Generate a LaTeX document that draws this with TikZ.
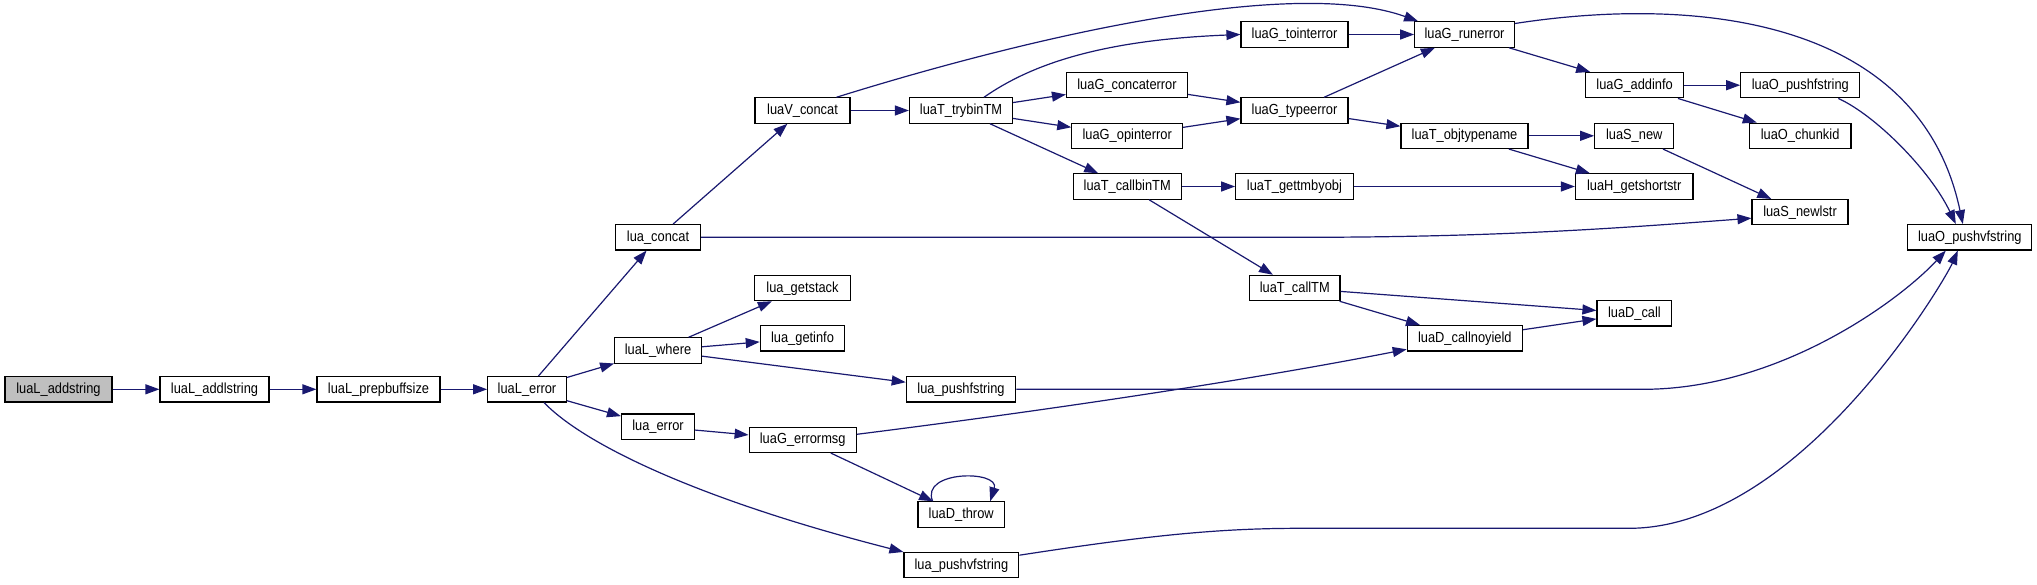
\documentclass[tikz,border=0pt]{standalone}
\usepackage{fontspec}
\setmainfont{Liberation Sans}[FakeStretch=0.88]
\usetikzlibrary{arrows.meta,calc}
\definecolor{edgecol}{HTML}{191970}
\definecolor{rootfill}{HTML}{BFBFBF}
\begin{document}
\begin{tikzpicture}[x=0.5pt,y=-0.5pt,
  fn/.style={draw=black, line width=0.6pt, fill=white, minimum height=12.65pt, inner sep=0pt,
    font=\fontsize{7.3pt}{8pt}\selectfont, text height=5.4pt, text depth=1.4pt},
  root/.style={fn, fill=rootfill},
  bw/.style={minimum width=#1*0.5pt},
  call/.style={draw=edgecol, line width=0.6pt, -{Triangle[length=7pt,width=5pt]}}]
\fill[white] (0,0) rectangle (2037,584);
\useasboundingbox (0,0) rectangle (2037,584);
% nodes
\node[root,bw=107]  (addstring)   at (58.5,389.3)  {luaL\_addstring};
\node[fn,bw=109]    (addlstring)  at (214.5,389.3) {luaL\_addlstring};
\node[fn,bw=123]    (prepbuf)     at (378.5,389.3) {luaL\_prepbuffsize};
\node[fn,bw=78.5]   (lerror)      at (527,389.3)   {luaL\_error};
\node[fn,bw=85]     (concat)      at (658,237.3)   {lua\_concat};
\node[fn,bw=86.6]   (where)       at (658,350.5)   {luaL\_where};
\node[fn,bw=72.8]   (error)       at (658,426.7)   {lua\_error};
\node[fn,bw=114.8]  (pushvf)      at (961.4,565.2) {lua\_pushvfstring};
\node[fn,bw=95]     (vconcat)     at (802.5,110.5) {luaV\_concat};
\node[fn,bw=96]     (getstack)    at (802.5,288)   {lua\_getstack};
\node[fn,bw=84.3]   (getinfo)     at (802.5,338.3) {lua\_getinfo};
\node[fn,bw=107]    (errormsg)    at (802.7,439.8) {luaG\_errormsg};
\node[fn,bw=103]    (trybin)      at (961,110.5)   {luaT\_trybinTM};
\node[fn,bw=109.4]  (pushf)       at (961,389.3)   {lua\_pushfstring};
\node[fn,bw=86.6]   (throw)       at (961.2,514.5) {luaD\_throw};
\node[fn,bw=121]    (concaterr)   at (1127,85.2)   {luaG\_concaterror};
\node[fn,bw=110.7]  (opinterr)    at (1127.2,135.8) {luaG\_opinterror};
\node[fn,bw=108]    (callbin)     at (1127.2,186.5) {luaT\_callbinTM};
\node[fn,bw=107]    (tointerr)    at (1294.5,34.5) {luaG\_tointerror};
\node[fn,bw=107]    (typeerr)     at (1294.5,110.5) {luaG\_typeerror};
\node[fn,bw=117.4]  (gettm)       at (1294.4,186.5) {luaT\_gettmbyobj};
\node[fn,bw=90.4]   (calltm)      at (1294.8,288)  {luaT\_callTM};
\node[fn,bw=99.6]   (runerr)      at (1464.5,34.5) {luaG\_runerror};
\node[fn,bw=127]    (objtype)     at (1464.5,135.8) {luaT\_objtypename};
\node[fn,bw=115]    (callny)      at (1464.8,338.3) {luaD\_callnoyield};
\node[fn,bw=97.7]   (addinfo)     at (1634.6,85.2) {luaG\_addinfo};
\node[fn,bw=79]     (snew)        at (1634.2,135.8) {luaS\_new};
\node[fn,bw=117.5]  (getshort)    at (1634.2,186.5) {luaH\_getshortstr};
\node[fn,bw=74.8]   (dcall)       at (1634.4,313.3) {luaD\_call};
\node[fn,bw=119]    (opushf)      at (1800.3,85.2) {luaO\_pushfstring};
\node[fn,bw=101.6]  (chunkid)     at (1800.1,135.8) {luaO\_chunkid};
\node[fn,bw=95.9]   (newlstr)     at (1800,212.2)  {luaS\_newlstr};
\node[fn,bw=124]    (opushvf)     at (1969.8,237.3) {luaO\_pushvfstring};
% straight edges
\draw[call] (addstring) -- (addlstring);
\draw[call] (addlstring) -- (prepbuf);
\draw[call] (prepbuf) -- (lerror);
\draw[call] (lerror) -- (concat);
\draw[call] (lerror) -- (where);
\draw[call] (lerror) -- (error);
\draw[call] (concat) -- (vconcat);
\draw[call] (vconcat) -- (trybin);
\draw[call] (trybin) -- (concaterr);
\draw[call] (trybin) -- (opinterr);
\draw[call] (trybin) -- (callbin);
\draw[call] (concaterr) -- (typeerr);
\draw[call] (opinterr) -- (typeerr);
\draw[call] (callbin) -- (gettm);
\draw[call] (callbin) -- (calltm);
\draw[call] (tointerr) -- (runerr);
\draw[call] (typeerr) -- (runerr);
\draw[call] (typeerr) -- (objtype);
\draw[call] (runerr) -- (addinfo);
\draw[call] (addinfo) -- (opushf);
\draw[call] (addinfo) -- (chunkid);
\draw[call] (objtype) -- (snew);
\draw[call] (objtype) -- (getshort);
\draw[call] (snew) -- (newlstr);
\draw[call] (gettm) -- (getshort);
\draw[call] (calltm) -- (dcall);
\draw[call] (calltm) -- (callny);
\draw[call] (callny) -- (dcall);
\draw[call] (where) -- (getstack);
\draw[call] (where) -- (getinfo);
\draw[call] (where) -- (pushf);
\draw[call] (error) -- (errormsg);
\draw[call] (errormsg) -- (throw);
% curved edges
\draw[call] ($(vconcat.north)+(34,0)$) .. controls (1020,40) and (1290,-25) .. ($(runerr.north west)+(4,0)$);
\draw[call] ($(trybin.north)+(23,0)$) .. controls (1030,65) and (1100,40) .. (tointerr.west);
\draw[call] ($(runerr.east)+(0,-11)$) .. controls (1700,-5) and (1920,20) .. ($(opushvf.north)+(-7,0)$);
\draw[call] ($(opushf.south)+(38,0)$) .. controls (1875,115) and (1930,170) .. ($(opushvf.north)+(-14,0)$);
\draw[call] (concat.east) -- (1300,237.3) .. controls (1500,237.3) and (1620,228) .. ($(newlstr.west)+(0,6)$);
\draw[call] (pushf.east) -- (1643,389.3) .. controls (1780,389.3) and (1900,300) .. ($(opushvf.south)+(-24,0)$);
\draw[call] ($(pushvf.east)+(0,-10)$) .. controls (1150,535) and (1220,528.3) .. (1300,528.3) -- (1629,528.3)
  .. controls (1800,528.3) and (1945,280) .. ($(opushvf.south)+(-12,0)$);
\draw[call] ($(lerror.south)+(17,0)$) .. controls (585,445) and (700,500) .. (pushvf.north west);
\draw[call] ($(errormsg.east)+(0,-5.5)$) .. controls (1050,410) and (1250,380) .. ($(callny.west)+(0,11)$);
\draw[call] ($(throw.north)+(-28.6,0)$) .. controls (920,470) and (1000,470) .. ($(throw.north)+(29,0)$);
\end{tikzpicture}
\end{document}
